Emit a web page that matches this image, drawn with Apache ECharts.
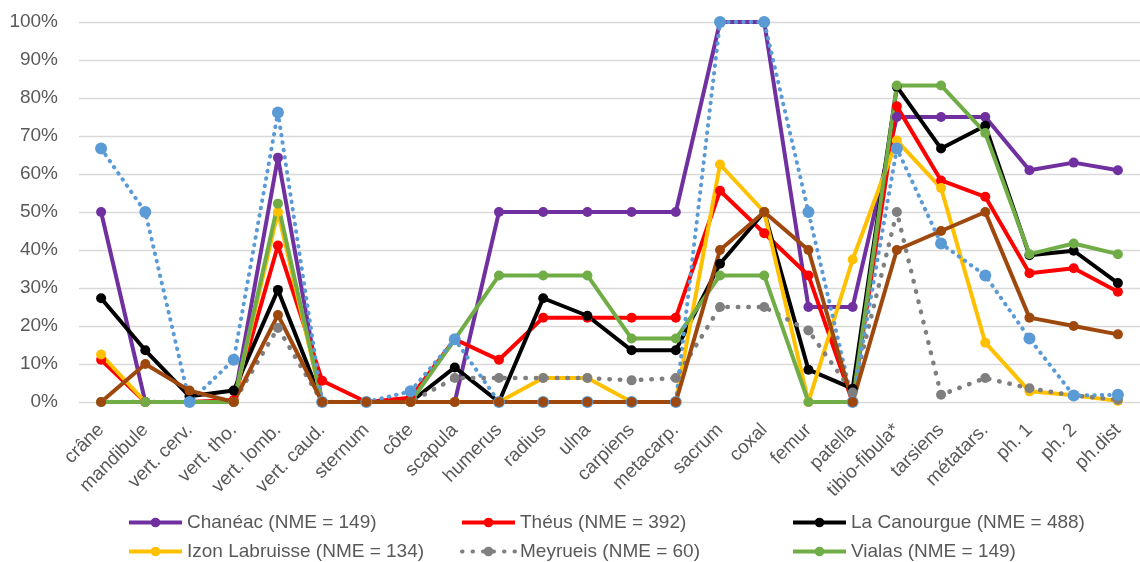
<!DOCTYPE html>
<html>
<head>
<meta charset="utf-8">
<script src="https://cdn.jsdelivr.net/npm/echarts@6/dist/echarts.min.js"></script>
<style>
html,body{margin:0;padding:0;background:#fff;}
#chart{width:1140px;height:562px;}
</style>
</head>
<body>
<div id="chart"></div>
<script>
const categories = ['crâne','mandibule','vert. cerv.','vert. tho.','vert. lomb.','vert. caud.','sternum','côte','scapula','humerus','radius','ulna','carpiens','metacarp.','sacrum','coxal','femur','patella','tibio-fibula*','tarsiens','métatars.','ph. 1','ph. 2','ph.dist'];
const yTicks = [0,10,20,30,40,50,60,70,80,90,100];

const chaneac   = [50,0,0,0,64.3,0,0,0,0,50,50,50,50,50,100,100,25,25,75,75,75,61,63,61];
const theus     = [11.1,0,0,0.5,41.2,5.6,0,1.1,16.5,11.1,22.2,22.2,22.2,22.2,55.6,44.4,33.3,0,77.8,58.3,54,33.9,35.2,29];
const canourgue = [27.3,13.6,1.5,3,29.5,0,0,0,9.1,0,27.3,22.7,13.6,13.6,36.4,50,8.5,3.5,83,66.7,72.7,38.6,39.8,31.3];
const izon      = [12.5,0,0,0,50,0,0,0,0,0,6.3,6.3,0,0,62.5,50,0,37.5,68.8,56.3,15.6,2.8,1.8,0.3];
const meyrueis  = [0,0,0,0,19.5,0,0,0,6.3,6.3,6.3,6.3,5.7,6.3,25,25,18.8,2.5,50,1.9,6.3,3.6,1.7,0.6];
const vialas    = [0,0,0,0,52.2,0,0,0,16.5,33.3,33.3,33.3,16.7,16.7,33.3,33.3,0,0,83.3,83.3,70.8,38.9,41.7,38.9];
const serie7    = [66.7,50,0,11.1,76.2,0,0,2.8,16.5,0,0,0,0,0,100,100,50,0,66.7,41.7,33.3,16.7,1.7,1.9];
const serie8    = [0,10,3,0,22.9,0,0,0,0,0,0,0,0,0,40,50,40,0,40,45,50,22.2,20,17.8];

const FONT = 'Liberation Sans';
const TXT = '#595959';

function solid(name, data, color) {
  return {
    name: name, type: 'line', data: data,
    symbol: 'circle', symbolSize: 10,
    itemStyle: {color: color},
    lineStyle: {color: color, width: 4},
    emphasis: {disabled: true},
    animation: false
  };
}
function dotted(name, data, color, size, width, dash) {
  return {
    name: name, type: 'line', data: data,
    symbol: 'circle', symbolSize: size,
    itemStyle: {color: color},
    lineStyle: {color: color, width: width, type: dash, cap: 'round'},
    emphasis: {disabled: true},
    animation: false
  };
}

const legendRows = [
  {name:'Chanéac (NME = 149)', left:127, top:513},
  {name:'Théus (NME = 392)', left:460, top:513},
  {name:'La Canourgue (NME = 488)', left:791, top:513},
  {name:'Izon Labruisse (NME = 134)', left:127, top:542},
  {name:'Meyrueis (NME = 60)', left:460, top:542},
  {name:'Vialas (NME = 149)', left:791, top:542}
];

const chart = echarts.init(document.getElementById('chart'), null, {renderer:'canvas'});
chart.setOption({
  backgroundColor: '#fff',
  animation: false,
  grid: {left: 79, right: 0, top: 22, bottom: 160, containLabel: false},
  xAxis: {
    type: 'category', data: categories, boundaryGap: true,
    axisLine: {lineStyle: {color: '#D9D9D9', width: 1}},
    axisTick: {show: false},
    axisLabel: {rotate: 45, margin: 25, interval: 0, color: TXT, fontSize: 19, fontFamily: FONT}
  },
  yAxis: {
    type: 'value', min: 0, max: 100, interval: 10,
    axisLine: {show: false}, axisTick: {show: false},
    splitLine: {lineStyle: {color: '#D9D9D9', width: 1.3}},
    axisLabel: {formatter: function(v){ return yTicks.indexOf(v) >= 0 ? v + '%' : ''; }, margin: 21, color: TXT, fontSize: 19, fontFamily: FONT}
  },
  legend: legendRows.map(function(r){
    return {
      data: [r.name], left: r.left, top: r.top, orient: 'horizontal',
      padding: 0,
      itemWidth: 53, itemHeight: 12, itemGap: 5,
      selectedMode: false,
      lineStyle: {width: 4},
      textStyle: {color: TXT, fontSize: 19, fontFamily: FONT}
    };
  }),
  series: [
    solid('Chanéac (NME = 149)', chaneac, '#7030A0'),
    solid('Théus (NME = 392)', theus, '#FF0000'),
    solid('La Canourgue (NME = 488)', canourgue, '#000000'),
    solid('Izon Labruisse (NME = 134)', izon, '#FFC000'),
    dotted('Meyrueis (NME = 60)', meyrueis, '#7F7F7F', 10, 4.5, [0.5, 10]),
    solid('Vialas (NME = 149)', vialas, '#70AD47'),
    dotted('Série 7', serie7, '#5B9BD5', 12, 4, [0.5, 7]),
    solid('Série 8', serie8, '#9E480E')
  ]
});
</script>
</body>
</html>
